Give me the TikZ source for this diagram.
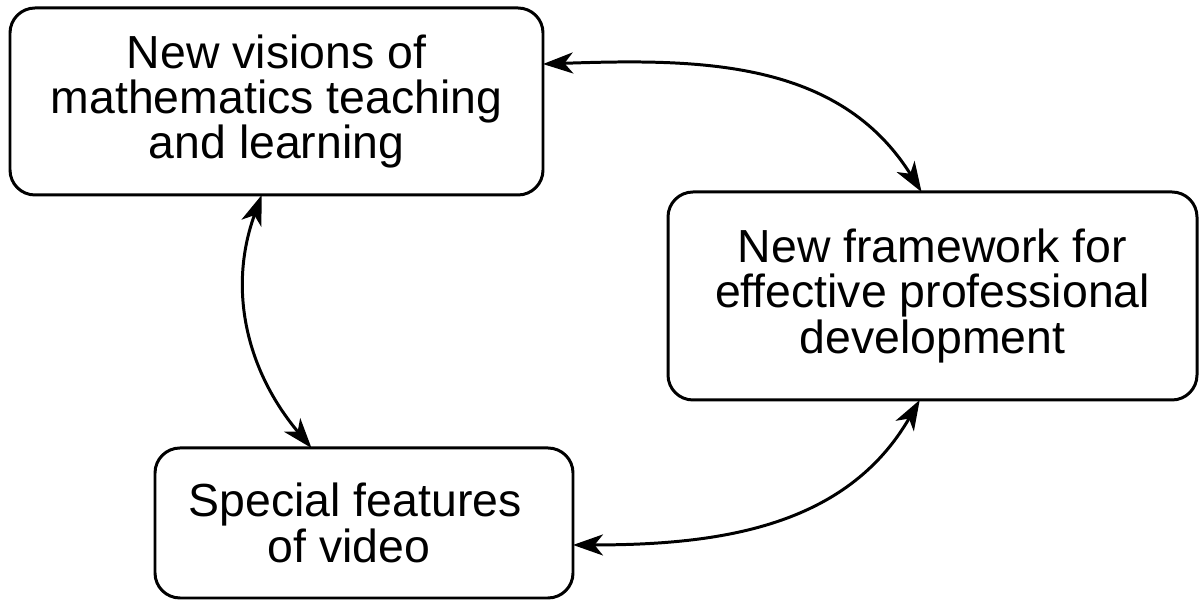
\documentclass[tikz,border=0pt]{standalone}
\usepackage{fontspec}
\setmainfont{Liberation Sans}
\usetikzlibrary{arrows.meta}

\begin{document}
\begin{tikzpicture}[
    box/.style={draw, line width=1.7pt, rounded corners=0.5cm, align=center, outer sep=0pt,
      font=\fontsize{26.4}{25.8}\selectfont},
    link/.style={line width=1.7pt, {Stealth[length=0.6cm, width=0.42cm, inset=0.17cm]}-{Stealth[length=0.6cm, width=0.42cm, inset=0.17cm]}}
  ]
    \useasboundingbox (0,0) rectangle (24.04,12.1);

    % the three boxes
    \node[box, minimum width=10.66cm, minimum height=3.74cm] (visions) at (5.53,10.07) {New visions of\\mathematics teaching\\and learning};
    \node[box, minimum width=10.58cm, minimum height=4.16cm] (framework) at (18.65,6.18) {New framework for\\effective professional\\development};
    \node[box, minimum width=8.36cm, minimum height=3.0cm] (video) at (7.28,1.64) {Special features\hspace*{0.35cm}\\of video\hspace*{0.6cm}};

    % links between them
    \draw[link] (visions.8.4) to[out=2, in=122] (framework.96.9);
    \draw[link] (visions.261.2) to[out=250, in=130] (video.125.8);
    \draw[link] (video.-6) to[out=0, in=240] (framework.263.1);
  \end{tikzpicture}
\end{document}
